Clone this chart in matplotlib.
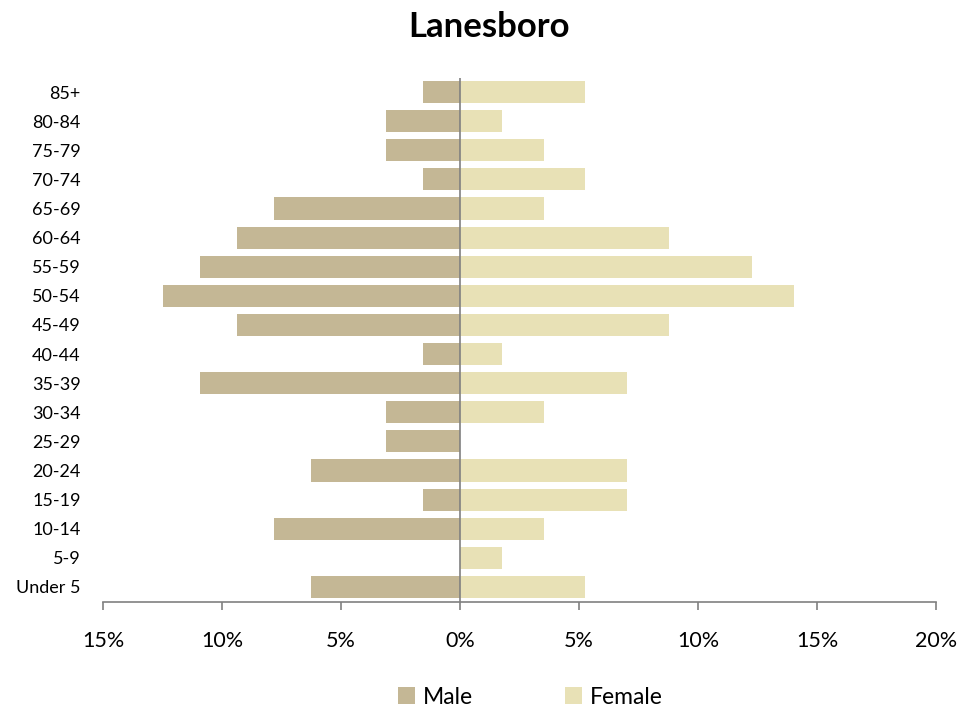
import numpy as np
import matplotlib.pyplot as plt

# Age groups from bottom to top
age_groups = ["Under 5", "5-9", "10-14", "15-19", "20-24", "25-29", "30-34",
              "35-39", "40-44", "45-49", "50-54", "55-59", "60-64", "65-69",
              "70-74", "75-79", "80-84", "85+"]

# Percentage of population (male drawn to the left)
male_pct = [6.25, 0.0, 7.81, 1.56, 6.25, 3.13, 3.13, 10.94, 1.56, 9.38,
            12.50, 10.94, 9.38, 7.81, 1.56, 3.13, 3.13, 1.56]
female_pct = [5.26, 1.75, 3.51, 7.02, 7.02, 0.0, 3.51, 7.02, 1.75, 8.77,
              14.04, 12.28, 8.77, 3.51, 5.26, 3.51, 1.75, 5.26]

x_ticks = [-15, -10, -5, 0, 5, 10, 15, 20]
x_tick_labels = ["15%", "10%", "5%", "0%", "5%", "10%", "15%", "20%"]

plt.rcParams['font.family'] = ['Lato', 'DejaVu Sans']

fig = plt.figure(figsize=(9.79, 7.13), dpi=100)
ax = fig.add_axes([103 / 979, 1 - 601.5 / 713, (936 - 103) / 979, (601.5 - 77.5) / 713])

y = np.arange(len(age_groups))
ax.barh(y, [-v for v in male_pct], height=0.76, color="#C4B795", label="Male")
ax.barh(y, female_pct, height=0.76, color="#E8E1B6", label="Female")

ax.axvline(0, color="#808080", linewidth=1.2)
ax.set_xlim(-15, 20)
ax.set_ylim(-0.5, len(age_groups) - 0.5)

ax.set_yticks(y)
ax.set_yticklabels(age_groups, fontsize=13)
ax.tick_params(axis="y", length=0, pad=16)

ax.set_xticks(x_ticks)
ax.set_xticklabels(x_tick_labels, fontsize=15.5)
ax.tick_params(axis="x", length=6, width=1.2, color="#808080", pad=15)

for side in ["top", "right", "left"]:
    ax.spines[side].set_visible(False)
ax.spines["bottom"].set_color("#808080")
ax.spines["bottom"].set_linewidth(1.2)

fig.suptitle("Lanesboro", fontsize=25, fontweight="bold", y=1 - 27 / 713, va="center")

fig.legend(loc="center", bbox_to_anchor=(0.542, 1 - 697 / 713), ncol=2, frameon=False,
           fontsize=16.5, handlelength=0.75, handleheight=0.75, columnspacing=4.0,
           handletextpad=0.35)

fig.savefig("out.png", dpi=100)
